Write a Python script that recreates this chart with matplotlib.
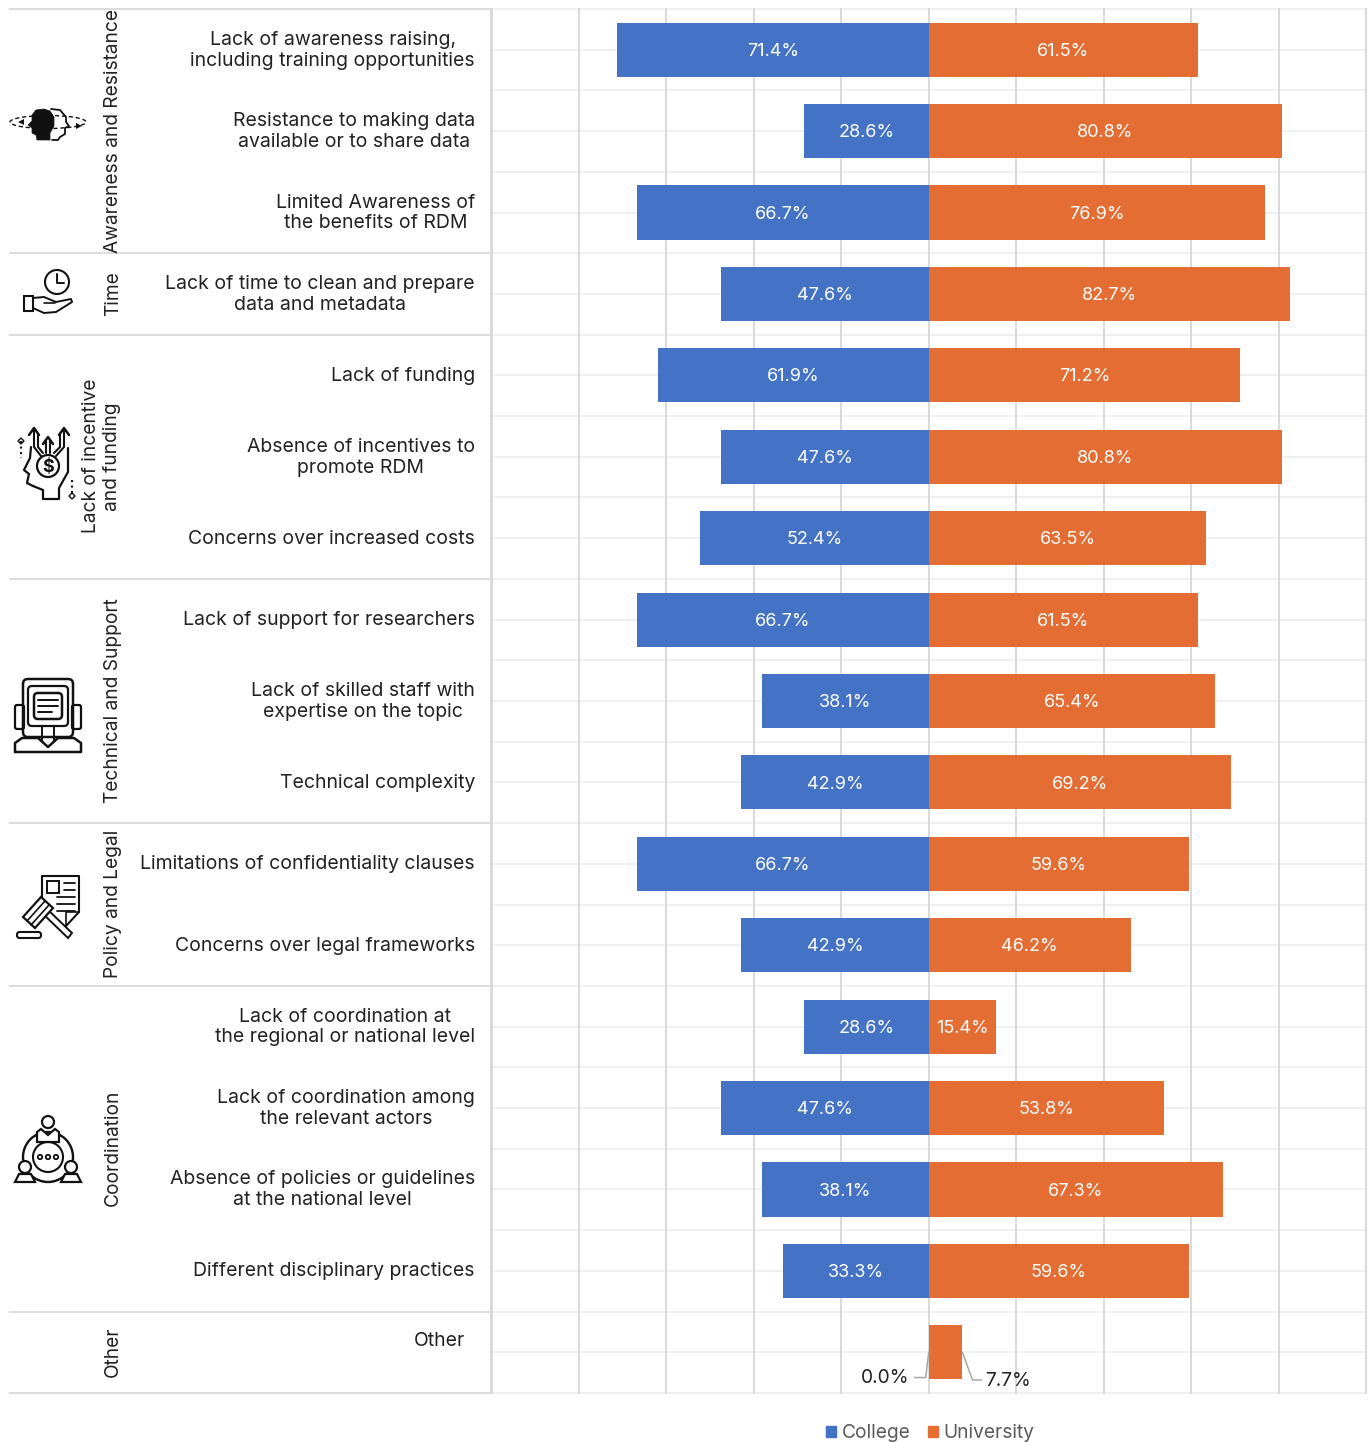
import matplotlib
matplotlib.use("Agg")
import matplotlib.pyplot as plt
from matplotlib.patches import Circle, Ellipse, Polygon, Rectangle, FancyBboxPatch

plt.rcParams['font.family'] = ['Inter', 'DejaVu Sans']

# Data
row_labels = [
    "Lack of awareness raising,\nincluding training opportunities",
    "Resistance to making data\navailable or to share data",
    "Limited Awareness of\nthe benefits of RDM",
    "Lack of time to clean and prepare\ndata and metadata",
    "Lack of funding",
    "Absence of incentives to\npromote RDM",
    "Concerns over increased costs",
    "Lack of support for researchers",
    "Lack of skilled staff with\nexpertise on the topic",
    "Technical complexity",
    "Limitations of confidentiality clauses",
    "Concerns over legal frameworks",
    "Lack of coordination at\nthe regional or national level",
    "Lack of coordination among\nthe relevant actors",
    "Absence of policies or guidelines\nat the national level",
    "Different disciplinary practices",
    "Other",
]
college = [71.4, 28.6, 66.7, 47.6, 61.9, 47.6, 52.4, 66.7, 38.1, 42.9, 66.7, 42.9, 28.6, 47.6, 38.1, 33.3, 0.0]
university = [61.5, 80.8, 76.9, 82.7, 71.2, 80.8, 63.5, 61.5, 65.4, 69.2, 59.6, 46.2, 15.4, 53.8, 67.3, 59.6, 7.7]
group_names = ["Awareness and Resistance", "Time", "Lack of incentive\nand funding",
               "Technical and Support", "Policy and Legal", "Coordination", "Other"]
group_sizes = [3, 1, 3, 3, 2, 4, 1]

BLUE = "#4472C4"
ORANGE = "#E46D33"
W, H = 1368, 1442
FS = 14
GS = 13.8
PCT = 13

fig = plt.figure(figsize=(W / 100, H / 100), dpi=100)
ax = fig.add_axes([491.5 / W, 1 - 1393 / H, (1366 - 491.5) / W, (1393 - 9) / H])
n = len(row_labels)
ax.set_xlim(-100, 100)
ax.set_ylim(n, 0)

# grid
for v in range(-100, 101, 20):
    ax.axvline(v, color="#d9d9d9", lw=1.4, zorder=1, clip_on=False)
for i in range(n * 2 + 1):
    ax.axhline(i / 2, color="#f0f0f0", lw=1.5, zorder=0, clip_on=False)

rows = list(range(n))
ypos = [r + 0.5 for r in rows]
ax.barh(ypos, [-c for c in college], height=0.665, color=BLUE, zorder=3)
ax.barh(ypos, university, height=0.665, color=ORANGE, zorder=3)
ax.axis("off")

for y, c, u in zip(ypos[:-1], college[:-1], university[:-1]):
    ax.text(-c / 2, y + 0.02, f"{c:.1f}%", color="white", ha="center", va="center", fontsize=PCT, zorder=4)
    ax.text(u / 2, y + 0.02, f"{u:.1f}%", color="white", ha="center", va="center", fontsize=PCT, zorder=4)

# small bars in the last row get outside labels with leader lines
ax.text(-4.5, n - 0.18, f"{college[-1]:.1f}%", ha="right", va="center", fontsize=GS, color="#222222", zorder=4)
ax.plot([-3.2, -0.7, 0], [n - 0.19, n - 0.19, n - 0.5], color="#a6a6a6", lw=1.1, zorder=4, clip_on=False)
ax.text(13, n - 0.15, f"{university[-1]:.1f}%", ha="left", va="center", fontsize=GS, color="#222222", zorder=4)
ax.plot([7.7, 10, 12], [n - 0.5, n - 0.16, n - 0.16], color="#a6a6a6", lw=1.1, zorder=4, clip_on=False)

# row labels
for y, lab in zip(ypos, row_labels):
    if lab == "Other":
        ax.text(-106, y - 0.14, lab, ha="right", va="center", fontsize=FS, color="#222222")
    else:
        ax.text(-103.8, y + 0.005, lab, ha="right", va="center", fontsize=FS, color="#222222",
                multialignment="center", linespacing=1.2)

# overlay in pixel coordinates for group labels and icons
px = fig.add_axes([0, 0, 1, 1], zorder=5)
px.set_xlim(0, W)
px.set_ylim(H, 0)
px.axis("off")
px.patch.set_alpha(0)

row_h = (1393 - 9) / n
px.plot([491.5, 491.5], [9, 1393], color="#d9d9d9", lw=1.3)
start = 0
px.plot([10, 491.5], [9, 9], color="#d9d9d9", lw=1.3)
for name, size in zip(group_names, group_sizes):
    end = start + size
    y0 = 9 + start * row_h
    y1 = 9 + end * row_h
    px.plot([10, 491.5], [y1, y1], color="#d9d9d9", lw=1.3)
    xc = 101.5 if "\n" in name else 113
    px.text(xc, (y0 + y1) / 2 - 0.5, name, rotation=90, ha="center", va="center", fontsize=GS,
            color="#222222", multialignment="center", linespacing=1.22)
    start = end

K = "#111111"


def ln(pts, lw=1.6, **kw):
    px.plot([p[0] for p in pts], [p[1] for p in pts], color=K, lw=lw, solid_capstyle="round", **kw)


def box(x, y, w, h, r=3, lw=1.6, fc="none"):
    px.add_patch(FancyBboxPatch((x + r, y + r), w - 2 * r, h - 2 * r, boxstyle=f"round,pad={r}",
                                fc=fc, ec=K, lw=lw))


def circ(x, y, r, lw=1.6, fc="none"):
    px.add_patch(Circle((x, y), r, fc=fc, ec=K, lw=lw))


# awareness icon
px.add_patch(Ellipse((48, 122), 76, 13, fc="none", ec=K, lw=1.0, ls=(0, (3, 2))))
ln([(51, 109), (60, 110), (66, 117), (66, 122), (69, 126), (65, 128), (65, 134), (60, 137), (58, 140), (52, 140)], lw=1.3)
px.add_patch(Polygon([(44, 109), (36, 110), (32, 115), (32, 121), (28, 125), (32, 128), (32, 133), (36, 135),
                      (37, 140), (50, 140), (50, 133), (54, 126), (54, 117), (50, 111)], fc=K, ec=K, lw=0.5, zorder=3))
px.add_patch(Polygon([(18, 122), (24, 119), (24, 125)], fc=K, zorder=4))
px.add_patch(Polygon([(82, 126), (76, 123), (76, 129)], fc=K, zorder=4))

# time icon
circ(57, 282, 12, lw=1.5)
ln([(57, 274), (57, 283), (64, 283)], lw=1.4)
px.add_patch(Rectangle((24, 296), 9, 15, fc="none", ec=K, lw=1.5))
ln([(33, 298), (44, 297), (56, 302), (71, 299), (72, 302), (56, 312), (44, 313), (33, 308)], lw=1.4)
ln([(44, 303), (55, 303)], lw=1.2)

# funding icon
circ(48, 466, 11, lw=1.6)
px.text(48, 467, "$", ha="center", va="center", fontsize=13, fontweight="bold", color=K)
ln([(33, 486), (27, 483), (29, 474), (24, 470), (30, 458), (31, 447)], lw=1.6)
ln([(43, 499), (43, 490), (33, 486)], lw=1.6)
ln([(43, 499), (59, 499), (59, 488), (68, 472), (68, 448)], lw=1.6)
for xa, ya, h in [(34, 428, 7), (48, 437, 7), (64, 428, 7)]:
    ln([(xa - 5, ya + h), (xa, ya), (xa + 5, ya + h)], lw=1.8)
ln([(34, 430), (34, 447), (41, 456)], lw=1.5)
ln([(38, 435), (38, 447), (43, 453)], lw=1.5)
ln([(64, 430), (64, 447), (56, 456)], lw=1.5)
ln([(60, 435), (60, 447), (54, 453)], lw=1.5)
ln([(46, 441), (46, 453)], lw=1.5)
ln([(50, 441), (50, 453)], lw=1.5)
ln([(21, 441), (21, 458)], lw=1.5, ls=":")
ln([(72, 480), (72, 496)], lw=1.5, ls=":")
px.add_patch(Polygon([(21, 438), (24, 441), (21, 444), (18, 441)], fc="none", ec=K, lw=1))
px.add_patch(Polygon([(72, 493), (75, 496), (72, 499), (69, 496)], fc="none", ec=K, lw=1))

# technical icon
box(23, 679, 50, 58, r=5, lw=1.8)
box(28, 686, 40, 40, r=4, lw=1.6)
box(34, 693, 28, 26, r=4, lw=1.8)
ln([(38, 700), (58, 700)], lw=1.4)
ln([(38, 706), (58, 706)], lw=1.4)
ln([(38, 712), (52, 712)], lw=1.4)
box(15, 705, 9, 24, r=2, lw=1.6)
box(72, 705, 9, 24, r=2, lw=1.6)
ln([(15, 752), (15, 743), (22, 738), (38, 738), (48, 747), (58, 738), (74, 738), (81, 743), (81, 752), (15, 752)], lw=1.8)
ln([(42, 727), (42, 741)], lw=1.4)
ln([(54, 727), (54, 741)], lw=1.4)

# legal icon
ln([(42, 900), (42, 876), (79, 876), (79, 912), (66, 926), (58, 926)], lw=1.5)
ln([(79, 912), (66, 912), (66, 926)], lw=1.2)
px.add_patch(Rectangle((47, 881), 12, 12, fc="none", ec=K, lw=1.4))
for ya, xa in [(883, 64), (890, 64), (897, 57), (904, 57), (911, 57)]:
    ln([(xa, ya), (75, ya)], lw=1.3)
px.add_patch(Polygon([(41, 912), (45, 907), (72, 933), (68, 938)], fc="white", ec=K, lw=1.4, zorder=3))
px.add_patch(Polygon([(23, 917), (41, 897), (53, 908), (35, 928)], fc="white", ec=K, lw=1.6, zorder=4))
ln([(27, 921), (45, 901)], lw=1.2, zorder=5)
ln([(31, 925), (49, 905)], lw=1.2, zorder=5)
box(17, 932, 24, 6, r=2.5, lw=1.5, fc="white")

# coordination icon
circ(48, 1157, 25, lw=1.7)
circ(48, 1157, 15, lw=1.5)
circ(48, 1122, 6, lw=1.6, fc="white")
px.add_patch(Polygon([(37, 1142), (37, 1132), (41, 1129), (48, 1135), (55, 1129), (59, 1132), (59, 1142)],
                     fc="white", ec=K, lw=1.6, zorder=2))
for xa in (40, 48, 56):
    circ(xa, 1157, 2.2, lw=1.3)
for xa in (25, 71):
    px.add_patch(Circle((xa, 1167), 6, fc="white", ec=K, lw=1.6, zorder=3))
    px.add_patch(Polygon([(xa - 10, 1182), (xa - 6, 1174), (xa + 6, 1174), (xa + 10, 1182)],
                         fc="white", ec=K, lw=1.6, zorder=3))

# legend
handles = [Rectangle((0, 0), 1, 1, color=BLUE), Rectangle((0, 0), 1, 1, color=ORANGE)]
fig.legend(handles, ["College", "University"], loc="center", bbox_to_anchor=(930.5 / W, 1 - 1433 / H),
           ncol=2, frameon=False, fontsize=GS, labelcolor="#595959", handlelength=0.52, handleheight=0.52,
           handletextpad=0.3, columnspacing=0.9)

fig.savefig("out.png", dpi=100)
